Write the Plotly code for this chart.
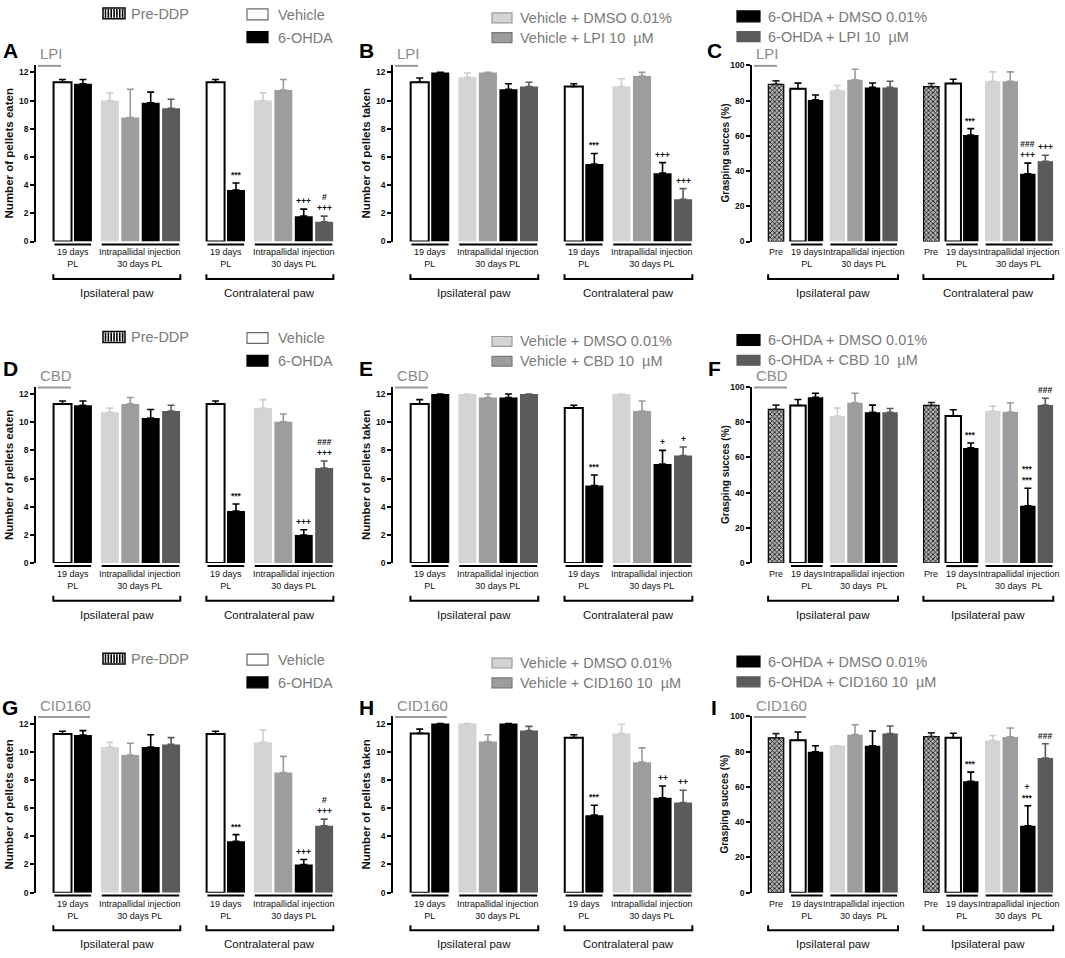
import plotly.graph_objects as go

# ------------------------------------------------------------------
# DATA  (order: ipsilateral bars, then contralateral bars)
# pellet panels series: Vehicle, 6-OHDA, Veh+DMSO, Veh+drug, 6-OHDA+DMSO, 6-OHDA+drug
# grasping panels series: Pre-DDP + the six above
# ------------------------------------------------------------------
drugs = ["LPI", "CBD", "CID160"]

A_mean = [11.3, 11.2, 10.0, 8.8, 9.85, 9.45, 11.3, 3.65, 10.0, 10.75, 1.8, 1.4]
A_err = [0.2, 0.3, 0.55, 2.0, 0.75, 0.65, 0.2, 0.5, 0.55, 0.75, 0.5, 0.4]
A_sig = ["", "", "", "", "", "", "", "***", "", "", "+++", "#<br>+++"]

B_mean = [11.3, 12.0, 11.65, 12.0, 10.8, 11.0, 11.0, 5.5, 11.0, 11.75, 4.85, 3.0]
B_err = [0.3, 0.0, 0.3, 0.0, 0.4, 0.3, 0.2, 0.75, 0.55, 0.25, 0.75, 0.75]
B_sig = ["", "", "", "", "", "", "", "***", "", "", "+++", "+++"]

C_mean = [89.2, 86.7, 80.4, 85.8, 91.8, 87.5, 87.5, 87.9, 89.7, 60.4, 91.0, 91.0, 38.5, 45.6]
C_err = [2.0, 3.2, 2.8, 2.8, 6.0, 2.5, 3.5, 1.8, 2.4, 3.7, 5.3, 5.3, 6.0, 3.4]
C_sig = ["", "", "", "", "", "", "", "", "", "***", "", "", "###<br>+++", "+++"]

D_mean = [11.3, 11.2, 10.7, 11.3, 10.3, 10.8, 11.3, 3.7, 11.0, 10.03, 2.0, 6.75]
D_err = [0.2, 0.3, 0.3, 0.45, 0.6, 0.4, 0.2, 0.5, 0.6, 0.55, 0.37, 0.5]
D_sig = ["", "", "", "", "", "", "", "***", "", "", "+++", "###<br>+++"]

E_mean = [11.3, 12.0, 12.0, 11.75, 11.75, 12.0, 11.0, 5.5, 12.0, 10.8, 7.03, 7.64]
E_err = [0.3, 0.0, 0.0, 0.25, 0.25, 0.0, 0.2, 0.75, 0.0, 0.7, 0.97, 0.6]
E_sig = ["", "", "", "", "", "", "", "***", "", "", "+", "+"]

F_mean = [87.3, 89.5, 94.2, 83.5, 91.0, 85.6, 85.6, 89.5, 83.5, 65.4, 86.3, 85.8, 32.6, 89.7]
F_err = [2.4, 3.4, 2.2, 4.5, 5.4, 4.1, 2.2, 1.7, 3.6, 2.8, 2.8, 5.2, 9.9, 3.9]
F_sig = ["", "", "", "", "", "", "", "", "", "***", "", "", "***<br>***", "###"]

G_mean = [11.25, 11.18, 10.33, 9.76, 10.33, 10.52, 11.25, 3.65, 10.68, 8.52, 2.0, 4.75]
G_err = [0.2, 0.32, 0.33, 0.84, 0.87, 0.48, 0.2, 0.47, 0.85, 1.15, 0.35, 0.47]
G_sig = ["", "", "", "", "", "", "", "***", "", "", "+++", "#<br>+++"]

H_mean = [11.3, 12.0, 12.0, 10.73, 12.0, 11.5, 11.0, 5.5, 11.3, 9.26, 6.73, 6.4]
H_err = [0.3, 0.0, 0.0, 0.47, 0.0, 0.3, 0.2, 0.7, 0.65, 1.01, 0.84, 0.87]
H_sig = ["", "", "", "", "", "", "", "***", "", "", "++", "++"]

I_mean = [87.9, 86.5, 80.0, 83.4, 89.7, 83.4, 90.3, 88.6, 87.9, 63.2, 86.4, 88.4, 37.9, 76.4]
I_err = [2.4, 4.7, 3.4, 0.0, 5.6, 8.4, 4.3, 2.1, 2.6, 5.2, 2.8, 5.1, 11.4, 8.1]
I_sig = ["", "", "", "", "", "", "", "", "", "***", "", "", "+<br>***", "###"]

pellet_ticks = [0, 2, 4, 6, 8, 10, 12]
grasp_ticks = [0, 20, 40, 60, 80, 100]

side_labels_std = ["Ipsilateral paw", "Contralateral paw"]
side_labels_grasp_CBD = ["Ipsilateral paw", "Ipsilateral paw"]
group_lbl_19 = "19 days<br>PL"
group_lbl_intra = "Intrapallidal injection<br>30 days PL"
group_lbl_intra2 = "Intrapallidal injection<br>30 days  PL"
group_lbl_pre = "Pre"

# ------------------------------------------------------------------
# STYLE
# ------------------------------------------------------------------
W, H = 1065, 958
FONT = "Liberation Sans, Arial, Helvetica, sans-serif"
ROW_TOP = [61, 386, 719]
ROW_BOT = [239, 564, 897]
COL_L = [36, 393, 752]
COL_R = [336, 695, 1055]
LEG_DY = [0, 327, 652]
LETTER_X = [10, 366, 714]
LETTER_Y = [46, 367, 710]
DRUG_W = {"LPI": 23, "CBD": 33, "CID160": 52}

# per-series styles: (fill, outline color, outline width, error color, pattern)
STY = {
    "pre": ("#9a9a9a", "#000000", 1.2, "#222222", "x"),
    "veh": ("#ffffff", "#000000", 2.0, "#000000", ""),
    "ohda": ("#000000", "#000000", 0.0, "#000000", ""),
    "vdmso": ("#d4d4d4", "#d4d4d4", 0.0, "#cfcfcf", ""),
    "vdrug": ("#9d9d9f", "#9d9d9f", 0.0, "#9a9a9a", ""),
    "odmso": ("#000000", "#000000", 0.0, "#000000", ""),
    "odrug": ("#5b5b5b", "#5b5b5b", 0.0, "#5b5b5b", ""),
}
PELLET_SERIES = ["veh", "ohda", "vdmso", "vdrug", "odmso", "odrug"]
GRASP_SERIES = ["pre"] + PELLET_SERIES


def pxx(x):
    return x / W


def pyy(y):
    return 1 - y / H


def bar_positions(groups, inner_gap, side_gap):
    pos = []
    x = 0.0
    for s in range(2):
        if s:
            x += side_gap
        for g, n in enumerate(groups):
            if g:
                x += inner_gap
            for _ in range(n):
                pos.append(x)
                x += 1
    return pos


panels = [
    ("A", A_mean, A_err, A_sig, "pel", "LPI", "Number of pellets eaten", side_labels_std, group_lbl_intra),
    ("B", B_mean, B_err, B_sig, "pel", "LPI", "Number of pellets taken", side_labels_std, group_lbl_intra),
    ("C", C_mean, C_err, C_sig, "gr", "LPI", "Grasping succes (%)", side_labels_std, group_lbl_intra),
    ("D", D_mean, D_err, D_sig, "pel", "CBD", "Number of pellets eaten", side_labels_std, group_lbl_intra),
    ("E", E_mean, E_err, E_sig, "pel", "CBD", "Number of pellets taken", side_labels_std, group_lbl_intra),
    ("F", F_mean, F_err, F_sig, "gr", "CBD", "Grasping succes (%)", side_labels_grasp_CBD, group_lbl_intra2),
    ("G", G_mean, G_err, G_sig, "pel", "CID160", "Number of pellets eaten", side_labels_std, group_lbl_intra),
    ("H", H_mean, H_err, H_sig, "pel", "CID160", "Number of pellets taken", side_labels_std, group_lbl_intra),
    ("I", I_mean, I_err, I_sig, "gr", "CID160", "Grasping succes (%)", side_labels_grasp_CBD, group_lbl_intra2),
]

fig = go.Figure()
shapes = []
annotations = []
layout_axes = {}


def ann(**kw):
    base = dict(showarrow=False, xanchor="center", yanchor="middle",
                font=dict(family=FONT, size=9, color="#111111"))
    f = kw.pop("font", None)
    if f:
        base["font"].update(f)
    base.update(kw)
    annotations.append(base)


for k, (letter, mean, err, sig, kind, drug, ytitle, sides, intra_lbl) in enumerate(panels):
    r, c = divmod(k, 3)
    sfx = "" if k == 0 else str(k + 1)
    xr, yr = "x" + sfx, "y" + sfx
    if kind == "pel":
        groups = [2, 4]
        pos = bar_positions(groups, 0.32, 1.18)
        xrange = [-1.3, 13.4]
        series = PELLET_SERIES
        yrange = [0, 12.5]
        ticks = pellet_ticks
    else:
        groups = [1, 2, 4]
        pos = bar_positions(groups, 0.25, 1.35)
        xrange = [-1.37, 15.9]
        series = GRASP_SERIES
        yrange = [0, 100]
        ticks = grasp_ticks
    n = len(series)

    for j, s in enumerate(series):
        fill, lc, lw, ec, pat = STY[s]
        marker = dict(color=fill, line=dict(color=lc, width=lw))
        if pat:
            marker["pattern"] = dict(shape=pat, size=3.2, solidity=0.45,
                                     fgcolor="#111111", bgcolor="#b5b5b5", fillmode="replace")
        fig.add_trace(go.Bar(
            x=[pos[j], pos[j + n]], y=[mean[j], mean[j + n]],
            width=0.88, marker=marker, xaxis=xr, yaxis=yr, showlegend=False,
            cliponaxis=False,
            error_y=dict(type="data", symmetric=False, array=[err[j], err[j + n]],
                         arrayminus=[0, 0], color=ec, thickness=1.6, width=3.5),
        ))

    # significance marks
    for i, t in enumerate(sig):
        if t:
            ann(x=pos[i], y=mean[i] + err[i], xref=xr, yref=yr, text="<b>" + t + "</b>",
                yanchor="bottom", yshift=1, font=dict(size=8.5))

    # axes
    layout_axes["xaxis" + sfx] = dict(domain=[pxx(COL_L[c]), pxx(COL_R[c])], range=xrange,
                                      visible=False, anchor=yr, fixedrange=True)
    layout_axes["yaxis" + sfx] = dict(
        domain=[pyy(ROW_BOT[r]), pyy(ROW_TOP[r])], range=yrange, anchor=xr,
        tickvals=ticks, showline=True, linecolor="#000000", linewidth=1.5,
        ticks="outside", ticklen=4, tickwidth=1.5, tickcolor="#000000",
        tickfont=dict(family=FONT, size=8.5, color="#111111", weight="bold"),
        showgrid=False, zeroline=False, fixedrange=True)

    # y title
    ann(x=pxx(COL_L[c] - 27), y=pyy((ROW_TOP[r] + ROW_BOT[r]) / 2), xref="paper", yref="paper",
        text="<b>%s</b>" % ytitle, textangle=-90,
        font=dict(size=11.5 if kind == "pel" else 10))

    # panel letter
    ann(x=pxx(LETTER_X[c]), y=pyy(LETTER_Y[r]), xref="paper", yref="paper",
        text="<b>%s</b>" % letter, font=dict(size=21, color="#000000"))

    # drug label + underline
    dl = COL_L[c] + 2
    ann(x=pxx(dl), y=pyy(ROW_TOP[r] - 1), xref="paper", yref="paper", text=drug,
        xanchor="left", yanchor="bottom", font=dict(size=15, color="#8c8c8c"))
    shapes.append(dict(type="line", xref="paper", yref="paper",
                       x0=pxx(dl), x1=pxx(dl + DRUG_W[drug]),
                       y0=pyy(ROW_TOP[r] + 0.5), y1=pyy(ROW_TOP[r] + 0.5),
                       line=dict(color="#9a9a9a", width=2)))

    # group underlines, group labels, side brackets
    idx = 0
    for s in range(2):
        side_first = pos[idx]
        for g, ng in enumerate(groups):
            gp = pos[idx: idx + ng]
            idx += ng
            if ng == 1:
                lbl = group_lbl_pre
            else:
                lbl = group_lbl_19 if ng == 2 else intra_lbl
                shapes.append(dict(type="line", xref=xr, yref="paper",
                                   x0=gp[0] - 0.4, x1=gp[-1] + 0.4,
                                   y0=pyy(ROW_BOT[r] + 3), y1=pyy(ROW_BOT[r] + 3),
                                   line=dict(color="#000000", width=2)))
            ann(x=sum(gp) / len(gp), y=pyy(ROW_BOT[r] + 4), xref=xr, yref="paper",
                text=lbl, yanchor="top", font=dict(size=9))
        side_last = pos[idx - 1]
        x0, x1 = side_first - 0.45, side_last + 0.45
        yb, yt = pyy(ROW_BOT[r] + 38), pyy(ROW_BOT[r] + 33)
        shapes.append(dict(type="path", xref=xr, yref="paper",
                           path="M %f,%f L %f,%f L %f,%f L %f,%f" % (x0, yt, x0, yb, x1, yb, x1, yt),
                           line=dict(color="#000000", width=2)))
        ann(x=(x0 + x1) / 2, y=pyy(ROW_BOT[r] + 52), xref=xr, yref="paper",
            text=sides[s], font=dict(size=11.5))

# ------------------------------------------------------------------
# legends (drawn per row)
# ------------------------------------------------------------------
LEG_FONT = dict(size=14.5, color="#7a7a7a")


def swatch(x0, x1, y0, y1, fill, line, lw=1.2):
    shapes.append(dict(type="rect", xref="paper", yref="paper",
                       x0=pxx(x0), x1=pxx(x1), y0=pyy(y1), y1=pyy(y0),
                       fillcolor=fill, line=dict(color=line, width=lw)))


def leg_text(x, y, t):
    ann(x=pxx(x), y=pyy(y), xref="paper", yref="paper", text=t, xanchor="left",
        yanchor="middle", font=LEG_FONT)


for r, drug in enumerate(drugs):
    d = LEG_DY[r]
    # Pre-DDP (striped swatch)
    swatch(103, 125, 3 + d, 14 + d, "#ffffff", "#000000", 1.5)
    for i in range(7):
        xs = 105.5 + i * 2.85
        shapes.append(dict(type="line", xref="paper", yref="paper",
                           x0=pxx(xs), x1=pxx(xs), y0=pyy(4 + d), y1=pyy(13 + d),
                           line=dict(color="#000000", width=1.6)))
    leg_text(129, 9 + d, "Pre-DDP")
    swatch(247, 268, 4 + d, 15 + d, "#ffffff", "#6a6a6a", 1.2)
    leg_text(276, 10 + d, "Vehicle")
    swatch(247, 268, 27 + d, 38 + d, "#000000", "#000000")
    leg_text(276, 33 + d, "6-OHDA")
    # column 2
    swatch(492, 512, 8 + d, 18 + d, "#d4d4d4", "#9a9a9a")
    leg_text(518, 13 + d, "Vehicle + DMSO 0.01%")
    swatch(492, 512, 28 + d, 38 + d, "#9d9d9f", "#7a7a7a")
    leg_text(518, 33 + d, "Vehicle + %s 10\u00a0 µM" % drug)
    # column 3
    swatch(737, 760, 6 + d, 17 + d, "#000000", "#000000")
    leg_text(766, 12 + d, "6-OHDA + DMSO 0.01%")
    swatch(737, 760, 27 + d, 37 + d, "#5b5b5b", "#5b5b5b")
    leg_text(766, 32 + d, "6-OHDA + %s 10\u00a0 µM" % drug)

fig.update_layout(
    width=W, height=H, margin=dict(l=0, r=0, t=0, b=0),
    paper_bgcolor="#ffffff", plot_bgcolor="rgba(0,0,0,0)",
    font=dict(family=FONT, color="#111111"),
    barmode="overlay", showlegend=False,
    shapes=shapes, annotations=annotations,
    **layout_axes,
)

fig.write_html("out.html", config={"displayModeBar": False},
               post_script="document.body.style.margin='0';document.body.style.overflow='hidden';")
